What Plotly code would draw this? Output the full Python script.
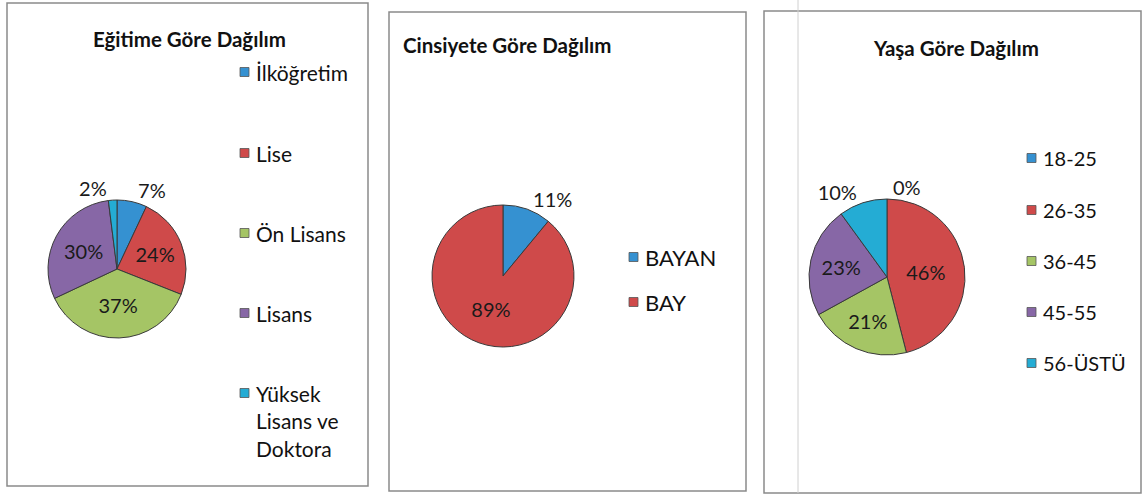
import plotly.graph_objects as go

W, H = 1143, 497

# ---- data ----
edu_labels = ["İlköğretim", "Lise", "Ön Lisans", "Lisans", "Yüksek Lisans ve Doktora"]
edu_legend_text = ["İlköğretim", "Lise", "Ön Lisans", "Lisans", "Yüksek<br>Lisans ve<br>Doktora"]
edu_values = [7, 24, 37, 30, 2]

gender_labels = ["BAYAN", "BAY"]
gender_values = [11, 89]

age_labels = ["18-25", "26-35", "36-45", "45-55", "56-ÜSTÜ"]
age_values = [0, 46, 21, 23, 10]

titles = ["Eğitime Göre Dağılım", "Cinsiyete Göre Dağılım", "Yaşa Göre Dağılım"]

BLUE, RED, GREEN, PURPLE, AQUA = "#3591d1", "#cf4a4a", "#a5c565", "#8767a6", "#24acd4"
edu_colors = [BLUE, RED, GREEN, PURPLE, AQUA]
gender_colors = [BLUE, RED]
age_colors = [BLUE, RED, GREEN, PURPLE, AQUA]

FONT = "Lato"
LBL = 20


def px_x(x):
    return x / W


def px_y(y):
    return 1 - y / H


def domain(cx, cy, r):
    return dict(x=[px_x(cx - r), px_x(cx + r)], y=[px_y(cy + r), px_y(cy - r)])


def pie(labels, values, colors, positions, dom):
    return go.Pie(
        labels=labels, values=values, sort=False, direction="clockwise", rotation=0,
        marker=dict(colors=colors, line=dict(color="#3a3a3a", width=1)),
        texttemplate="%{percent:.0%}", textposition=positions,
        insidetextorientation="horizontal",
        textfont=dict(family=FONT, size=LBL, color="#1a1a1a"),
        outsidetextfont=dict(family=FONT, size=LBL, color="#1a1a1a"),
        domain=dom, showlegend=False,
    )


fig = go.Figure()
fig.add_trace(pie(edu_labels, edu_values, edu_colors,
                  ["outside", "inside", "inside", "inside", "outside"], domain(117, 269, 69)))
fig.add_trace(pie(gender_labels, gender_values, gender_colors,
                  ["outside", "inside"], domain(503, 276, 71)))
fig.add_trace(pie(age_labels, age_values, age_colors,
                  ["outside", "inside", "inside", "inside", "outside"], domain(887, 277, 78)))

shapes = []
annotations = []

# boxes around each chart
for (x0, y0, x1, y1) in [(7, 3, 368, 486), (389, 12, 746, 491), (764, 11, 1141, 493)]:
    shapes.append(dict(type="rect", xref="paper", yref="paper",
                       x0=px_x(x0), x1=px_x(x1), y0=px_y(y1), y1=px_y(y0),
                       line=dict(color="#8a8a8a", width=1.5), fillcolor="rgba(0,0,0,0)"))
# scan artifact vertical line
shapes.append(dict(type="line", xref="paper", yref="paper", x0=px_x(798), x1=px_x(798),
                   y0=px_y(493), y1=px_y(0), line=dict(color="#d0d0d0", width=1)))

# titles
for t, (cx, cy) in zip(titles, [(189, 39), (507, 45), (956, 48)]):
    annotations.append(dict(text=f"<b>{t}</b>", x=px_x(cx), y=px_y(cy), xref="paper", yref="paper",
                            showarrow=False, font=dict(family=FONT, size=20.5, color="#111"),
                            xanchor="center", yanchor="middle"))


def add_legend(texts, colors, sq_x, ys, size):
    for t, c, y in zip(texts, colors, ys):
        shapes.append(dict(type="rect", xref="paper", yref="paper",
                           x0=px_x(sq_x), x1=px_x(sq_x + 9), y0=px_y(y + 4.5), y1=px_y(y - 4.5),
                           line=dict(color="#555", width=0.8), fillcolor=c))
        multi = "<br>" in t
        annotations.append(dict(text=t, x=px_x(sq_x + 14), y=px_y(y), xref="paper", yref="paper",
                                showarrow=False, xanchor="left",
                                yanchor="top" if multi else "middle",
                                yshift=14 if multi else 0,
                                align="left",
                                font=dict(family=FONT, size=size, color="#111")))


add_legend(edu_legend_text, edu_colors, 240, [72, 153, 233, 313, 393], 21)
add_legend(gender_labels, gender_colors, 629, [257, 302], 22)
add_legend(age_labels, age_colors, 1027, [158, 210, 261, 312, 363], 20)

fig.update_layout(
    width=W, height=H, margin=dict(l=0, r=0, t=0, b=0),
    paper_bgcolor="white", plot_bgcolor="white",
    shapes=shapes, annotations=annotations,
    font=dict(family=FONT),
)

fig.write_html("out.html", config={"displayModeBar": False},
               post_script="document.body.style.margin='0';")
